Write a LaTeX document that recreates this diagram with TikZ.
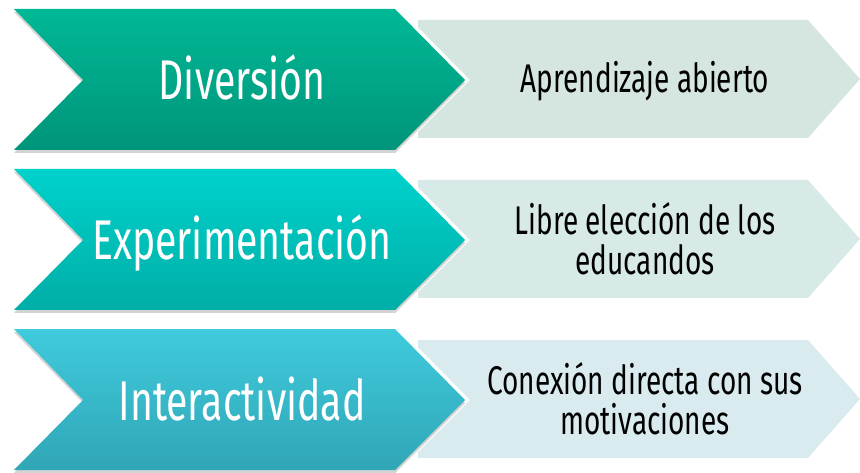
\documentclass[tikz,border=0pt]{standalone}
\usepackage{fontspec}
\setmainfont{Fira Sans}[FakeStretch=0.7]
\usetikzlibrary{shadows}
\definecolor{divtop}{HTML}{00B896}
\definecolor{divbot}{HTML}{00957A}
\definecolor{divlight}{HTML}{D5E5E0}
\definecolor{exptop}{HTML}{00D2CC}
\definecolor{expbot}{HTML}{00AEA6}
\definecolor{explight}{HTML}{D8EAE7}
\definecolor{inttop}{HTML}{3FCBDD}
\definecolor{intbot}{HTML}{30A6B6}
\definecolor{intlight}{HTML}{D9EBEF}
\tikzset{
  bigtext/.style={text=white, font=\fontsize{56}{56}\selectfont, inner sep=0pt},
  smalltext/.style={text=black, font=\fontsize{40}{40}\selectfont, align=center, inner sep=0pt},
  darkshadow/.style={drop shadow={opacity=0.35, shadow xshift=0pt, shadow yshift=-3pt}},
  tipline/.style={draw=white, line width=7pt, line join=miter},
}
\begin{document}
\begin{tikzpicture}[x=1pt, y=-1pt, line join=miter]
	\useasboundingbox (0,0) rectangle (860,473);
	% row 1
	\fill[divlight] (418,20)--(808,20)--(860,79)--(808,138)--(418,138)--cycle ;
	\draw[tipline] (395,9)--(465,80)--(395,150) ;
	\shade[darkshadow, top color=divtop, bottom color=divbot] (14,9)--(395,9)--(465,80)--(395,150)--(14,150)--(83,80)--cycle ;
	\node[bigtext, anchor=base] (div) at (242,100) {Diversión};
	\node[smalltext, anchor=base] (apr) at (645,93) {Aprendizaje abierto};
	% row 2
	\begin{scope}[shift={(0,160)}]
	\fill[explight] (418,20)--(808,20)--(860,79)--(808,138)--(418,138)--cycle ;
	\draw[tipline] (395,9)--(465,80)--(395,150) ;
	\shade[darkshadow, top color=exptop, bottom color=expbot] (14,9)--(395,9)--(465,80)--(395,150)--(14,150)--(83,80)--cycle ;
	\node[bigtext, anchor=base] (exp) at (242,100) {Experimentación};
	\node[smalltext] (lib) at (645,79) {Libre elección de los\\educandos};
	\end{scope}
	% row 3
	\begin{scope}[shift={(0,320)}]
	\fill[intlight] (418,20)--(808,20)--(860,79)--(808,138)--(418,138)--cycle ;
	\draw[tipline] (395,9)--(465,80)--(395,150) ;
	\shade[darkshadow, top color=inttop, bottom color=intbot] (14,9)--(395,9)--(465,80)--(395,150)--(14,150)--(83,80)--cycle ;
	\node[bigtext, anchor=base] (int) at (242,100) {Interactividad};
	\node[smalltext] (con) at (645,79) {Conexión directa con sus\\motivaciones};
	\end{scope}
\end{tikzpicture}
\end{document}
